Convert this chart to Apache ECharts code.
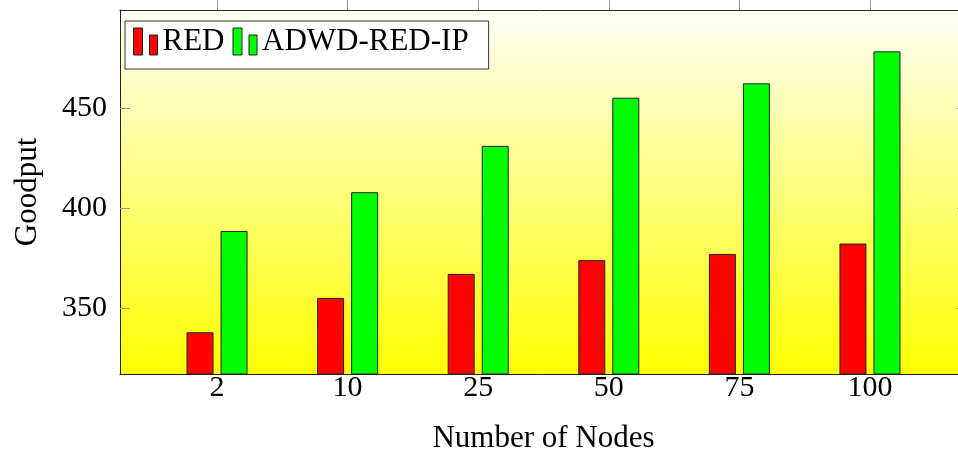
<!DOCTYPE html>
<html>
<head>
<meta charset="utf-8">
<title>Goodput vs Number of Nodes</title>
<style>
    html, body { margin: 0; padding: 0; background: #fff; }
    #chart { width: 958px; height: 454px; }
</style>
</head>
<body>
<div id="chart"></div>
<script src="https://cdn.jsdelivr.net/npm/echarts@6/dist/echarts.min.js"></script>
<script>
    // data
    const nodes = ['2', '10', '25', '50', '75', '100'];
    const redGoodput = [338.0, 355.2, 367.2, 374.1, 377.2, 382.4];
    const adwdGoodput = [388.7, 408.1, 431.3, 455.4, 462.6, 478.6];
    const yTicks = [350, 400, 450];

    const font = 'Liberation Serif';
    const idx = nodes.map(function (n, i) { return i; });
    // legend picture: two small bars like pgfplots ybar legend
    const barIcon = 'path://M0,0 L9,0 L9,27 L0,27 Z M16,7 L24,7 L24,27 L16,27 Z';

    let myChart = echarts.init(document.getElementById('chart'), null, { renderer: 'canvas' });

    let option = {
        backgroundColor: '#fff',
        animation: false,
        grid: {
            left: 120,
            right: -9,
            top: 10,
            bottom: 80,
            outerBoundsMode: 'none',
            containLabel: false,
            show: true,
            borderWidth: 0,
            backgroundColor: {
                type: 'linear', x: 0, y: 0, x2: 0, y2: 1,
                colorStops: [
                    { offset: 0, color: '#fffff8' },
                    { offset: 1, color: '#ffff00' }
                ]
            }
        },
        legend: {
            left: 125,
            top: 21,
            padding: [5, 20, 12, 8],
            itemGap: 8,
            itemWidth: 24,
            itemHeight: 27,
            backgroundColor: '#fff',
            borderColor: '#333',
            borderWidth: 1,
            icon: barIcon,
            itemStyle: { borderColor: '#222', borderWidth: 1 },
            textStyle: { fontFamily: font, fontSize: 31, color: '#000', lineHeight: 27 },
            data: ['RED', 'ADWD-RED-IP']
        },
        xAxis: [{
            type: 'value',
            position: 'bottom',
            min: -0.743,
            max: 5.743,
            name: 'Number of Nodes',
            nameLocation: 'middle',
            nameGap: 49,
            nameTextStyle: { fontFamily: font, fontSize: 31, color: '#000' },
            splitLine: { show: false },
            axisLine: { show: true, onZero: false, lineStyle: { color: '#222', width: 1 } },
            axisTick: { show: false },
            axisLabel: {
                customValues: idx,
                margin: -1,
                fontFamily: font,
                fontSize: 30,
                color: '#000',
                formatter: function (v) { return nodes[Math.round(v)]; }
            }
        }, {
            type: 'value',
            position: 'top',
            min: -0.743,
            max: 5.743,
            splitLine: { show: false },
            axisLine: { show: true, onZero: false, lineStyle: { color: '#222', width: 1 } },
            axisTick: { show: true, inside: false, length: 10, customValues: idx, lineStyle: { color: '#999' } },
            axisLabel: { show: false }
        }],
        yAxis: [{
            type: 'value',
            position: 'left',
            min: 317.1,
            max: 499.3,
            name: 'Goodput',
            nameLocation: 'middle',
            nameGap: 77,
            nameTextStyle: { fontFamily: font, fontSize: 31, color: '#000' },
            splitLine: { show: false },
            axisLine: { show: true, onZero: false, lineStyle: { color: '#222', width: 1 } },
            axisTick: { show: true, inside: true, length: 10, customValues: yTicks, lineStyle: { color: '#999' } },
            axisLabel: {
                customValues: yTicks,
                margin: 13,
                fontFamily: font,
                fontSize: 30,
                color: '#000'
            }
        }, {
            type: 'value',
            position: 'right',
            min: 317.1,
            max: 499.3,
            splitLine: { show: false },
            axisLine: { show: true, onZero: false, lineStyle: { color: '#222', width: 1 } },
            axisTick: { show: true, inside: true, length: 10, customValues: yTicks, lineStyle: { color: '#999' } },
            axisLabel: { show: false }
        }],
        series: [{
            name: 'RED',
            type: 'bar',
            xAxisIndex: 0,
            yAxisIndex: 0,
            barWidth: 27,
            barGap: '26%',
            itemStyle: { color: '#ff0000', borderColor: '#222', borderWidth: 1 },
            data: redGoodput.map(function (v, i) { return [i, v]; })
        }, {
            name: 'ADWD-RED-IP',
            type: 'bar',
            xAxisIndex: 0,
            yAxisIndex: 0,
            barWidth: 27,
            barGap: '26%',
            itemStyle: { color: '#00ff00', borderColor: '#222', borderWidth: 1 },
            data: adwdGoodput.map(function (v, i) { return [i, v]; })
        }]
    };

    myChart.setOption(option);
</script>
</body>
</html>
